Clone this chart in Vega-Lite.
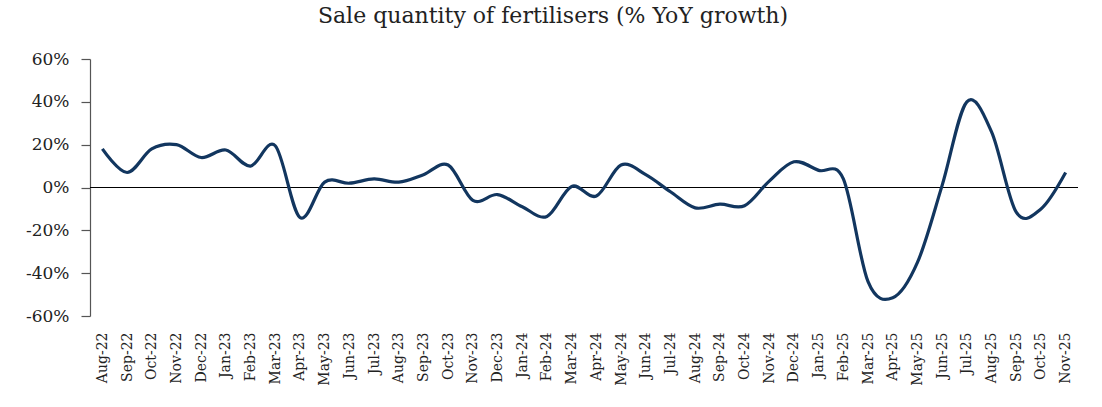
{
  "$schema": "https://vega.github.io/schema/vega-lite/v6.json",
  "autosize": {"type": "none"},
  "width": 988,
  "height": 257,
  "padding": {"left": 90, "top": 59, "right": 24, "bottom": 91},
  "background": "white",
  "title": {
    "text": "Sale quantity of fertilisers (% YoY growth)",
    "font": "DejaVu Serif",
    "fontSize": 22,
    "fontWeight": "normal",
    "color": "#222222",
    "anchor": "middle",
    "frame": "group",
    "dx": -31,
    "offset": 22
  },
  "config": {
    "view": {"stroke": null},
    "font": "DejaVu Serif"
  },
  "data": {
    "values": [
      {"month": "Aug-22", "growth": 18},
      {"month": "Sep-22", "growth": 7},
      {"month": "Oct-22", "growth": 18},
      {"month": "Nov-22", "growth": 20},
      {"month": "Dec-22", "growth": 14},
      {"month": "Jan-23", "growth": 17.5},
      {"month": "Feb-23", "growth": 10},
      {"month": "Mar-23", "growth": 19.5},
      {"month": "Apr-23", "growth": -14},
      {"month": "May-23", "growth": 2.5},
      {"month": "Jun-23", "growth": 2},
      {"month": "Jul-23", "growth": 4},
      {"month": "Aug-23", "growth": 2.5},
      {"month": "Sep-23", "growth": 6},
      {"month": "Oct-23", "growth": 10.5},
      {"month": "Nov-23", "growth": -6},
      {"month": "Dec-23", "growth": -3.3},
      {"month": "Jan-24", "growth": -9},
      {"month": "Feb-24", "growth": -13.5},
      {"month": "Mar-24", "growth": 0.5},
      {"month": "Apr-24", "growth": -4},
      {"month": "May-24", "growth": 10.5},
      {"month": "Jun-24", "growth": 6},
      {"month": "Jul-24", "growth": -2},
      {"month": "Aug-24", "growth": -9.5},
      {"month": "Sep-24", "growth": -7.8},
      {"month": "Oct-24", "growth": -8.5},
      {"month": "Nov-24", "growth": 3},
      {"month": "Dec-24", "growth": 12},
      {"month": "Jan-25", "growth": 8},
      {"month": "Feb-25", "growth": 4},
      {"month": "Mar-25", "growth": -44},
      {"month": "Apr-25", "growth": -51.5},
      {"month": "May-25", "growth": -35},
      {"month": "Jun-25", "growth": 1},
      {"month": "Jul-25", "growth": 40},
      {"month": "Aug-25", "growth": 26},
      {"month": "Sep-25", "growth": -11.5},
      {"month": "Oct-25", "growth": -10},
      {"month": "Nov-25", "growth": 7}
    ]
  },
  "layer": [
    {
      "mark": {"type": "rule", "color": "#000000", "strokeWidth": 1.2},
      "encoding": {"y": {"datum": 0, "type": "quantitative"}}
    },
    {
      "mark": {"type": "line", "interpolate": "cardinal", "color": "#12365f", "strokeWidth": 3.2},
      "encoding": {
        "x": {
          "field": "month",
          "type": "ordinal",
          "sort": null,
          "scale": {"type": "point", "padding": 0.5},
          "axis": {
            "title": null,
            "labelAngle": -90,
            "labelFont": "DejaVu Serif",
            "labelFontSize": 14,
            "labelColor": "#222222",
            "labelPadding": 16,
            "ticks": false,
            "domain": false,
            "grid": false
          }
        },
        "y": {
          "field": "growth",
          "type": "quantitative",
          "scale": {"domain": [-60, 60], "nice": false, "zero": false},
          "axis": {
            "title": null,
            "values": [-60, -40, -20, 0, 20, 40, 60],
            "labelExpr": "datum.value + '%'",
            "labelFont": "DejaVu Serif",
            "labelFontSize": 17,
            "labelColor": "#222222",
            "labelPadding": 12,
            "tickSize": 9,
            "tickColor": "#555555",
            "domainColor": "#555555",
            "tickWidth": 1.2,
            "domainWidth": 1.2,
            "grid": false
          }
        }
      }
    }
  ]
}
